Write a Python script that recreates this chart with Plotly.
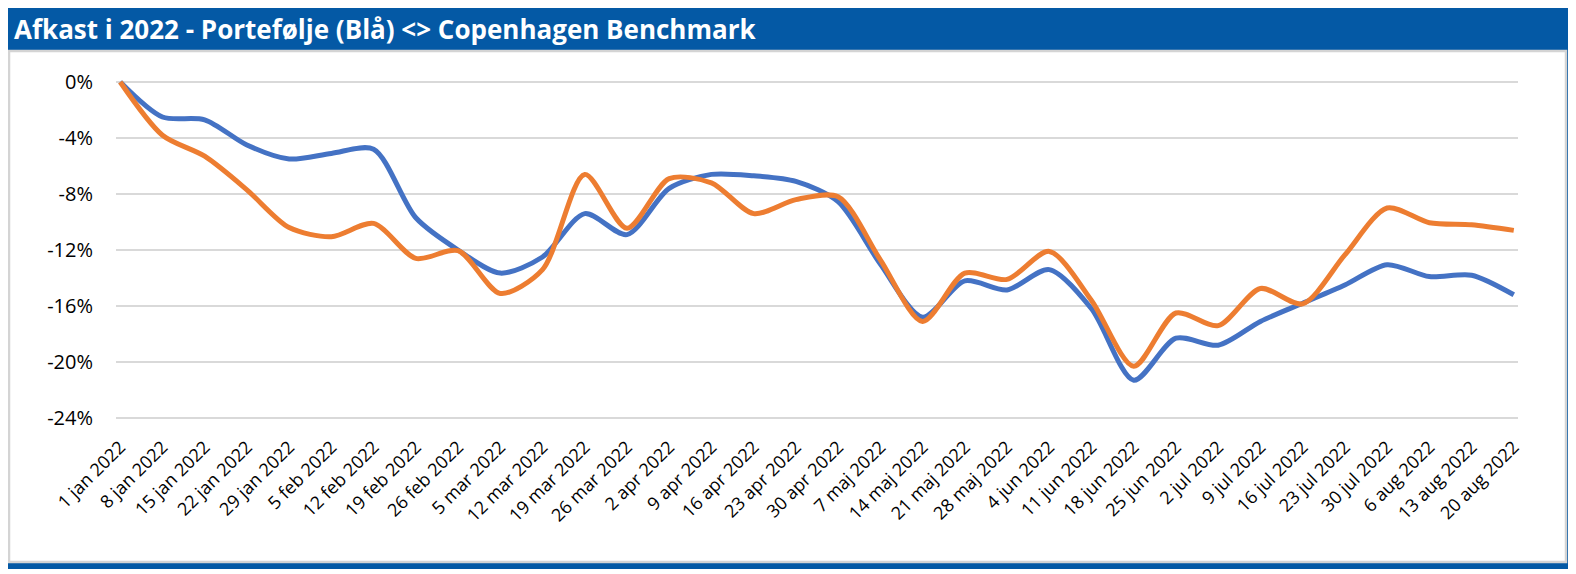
import plotly.graph_objects as go

categories = ["1 jan 2022", "8 jan 2022", "15 jan 2022", "22 jan 2022", "29 jan 2022",
              "5 feb 2022", "12 feb 2022", "19 feb 2022", "26 feb 2022", "5 mar 2022",
              "12 mar 2022", "19 mar 2022", "26 mar 2022", "2 apr 2022", "9 apr 2022",
              "16 apr 2022", "23 apr 2022", "30 apr 2022", "7 maj 2022", "14 maj 2022",
              "21 maj 2022", "28 maj 2022", "4 jun 2022", "11 jun 2022", "18 jun 2022",
              "25 jun 2022", "2 jul 2022", "9 jul 2022", "16 jul 2022", "23 jul 2022",
              "30 jul 2022", "6 aug 2022", "13 aug 2022", "20 aug 2022"]

portefolje = [0.0, -2.5, -2.7, -4.5, -5.5, -5.1, -4.8, -9.7, -12.0, -13.65,
              -12.5, -9.4, -10.9, -7.6, -6.6, -6.7, -7.1, -8.55, -13.0, -16.8,
              -14.2, -14.85, -13.4, -16.2, -21.3, -18.3, -18.8, -17.1, -15.8, -14.5,
              -13.05, -13.9, -13.8, -15.2]

benchmark = [0.0, -3.8, -5.3, -7.7, -10.4, -11.05, -10.1, -12.6, -12.05, -15.1,
             -13.4, -6.6, -10.45, -6.9, -7.2, -9.4, -8.4, -8.2, -12.7, -17.1,
             -13.65, -14.1, -12.1, -15.6, -20.3, -16.5, -17.4, -14.75, -15.85, -12.35,
             -9.0, -10.05, -10.2, -10.6]

y_ticks = [0, -4, -8, -12, -16, -20, -24]
y_tick_labels = ["0%", "-4%", "-8%", "-12%", "-16%", "-20%", "-24%"]

title_text = "Afkast i 2022 - Portefølje (Blå) <> Copenhagen Benchmark"

# page has an 8px body margin; figure is drawn at page offset (8, 8)
OFF = 8
W, H = 1568, 566
ML, MR, MT, MB = 108, 58, 60, 142
PW, PH = W - ML - MR, H - MT - MB

def px(x):
    return (x - OFF - ML) / PW

def py(y):
    return 1 - (y - OFF - MT) / PH

fig = go.Figure()
fig.add_trace(go.Scatter(x=categories, y=portefolje, mode="lines", name="Portefølje",
                         line=dict(color="#4472C4", width=5, shape="spline", smoothing=0.8)))
fig.add_trace(go.Scatter(x=categories, y=benchmark, mode="lines", name="Copenhagen Benchmark",
                         line=dict(color="#ED7D31", width=5, shape="spline", smoothing=0.8)))

BLUE = "#0459A5"
shapes = [
    dict(type="rect", xref="paper", yref="paper", x0=px(6), x1=px(1573), y0=py(51), y1=py(5),
         fillcolor=BLUE, line=dict(width=0), layer="below"),
    dict(type="rect", xref="paper", yref="paper", x0=px(1567), x1=px(1573), y0=py(569), y1=py(51),
         fillcolor=BLUE, line=dict(width=0), layer="below"),
    dict(type="rect", xref="paper", yref="paper", x0=px(7), x1=px(1573), y0=py(569), y1=py(563),
         fillcolor=BLUE, line=dict(width=0), layer="below"),
    dict(type="rect", xref="paper", yref="paper", x0=px(9), x1=px(1566), y0=py(562), y1=py(51),
         fillcolor="white", line=dict(color="#D4D4D4", width=2.5), layer="below"),
]

fig.update_layout(
    width=W, height=H,
    margin=dict(l=ML, r=MR, t=MT, b=MB),
    paper_bgcolor="white", plot_bgcolor="rgba(0,0,0,0)",
    showlegend=False,
    shapes=shapes,
    annotations=[dict(text=title_text, xref="paper", yref="paper", x=px(12), y=py(29),
                      xanchor="left", yanchor="middle", showarrow=False,
                      font=dict(family="Open Sans", size=26, color="white", weight="bold"))],
    xaxis=dict(type="category", range=[-0.1, 33.1], showgrid=False, zeroline=False,
               showline=False, ticks="", tickangle=-45,
               tickfont=dict(family="Open Sans", size=18, color="#000000")),
    yaxis=dict(range=[-25, 1], tickvals=y_ticks, ticktext=y_tick_labels,
               showgrid=True, gridcolor="#D9D9D9", gridwidth=2, zeroline=False,
               showline=False, ticks="", ticklabelstandoff=22,
               tickfont=dict(family="Open Sans", size=20, color="#000000")),
)

fig.write_html("out.html")
